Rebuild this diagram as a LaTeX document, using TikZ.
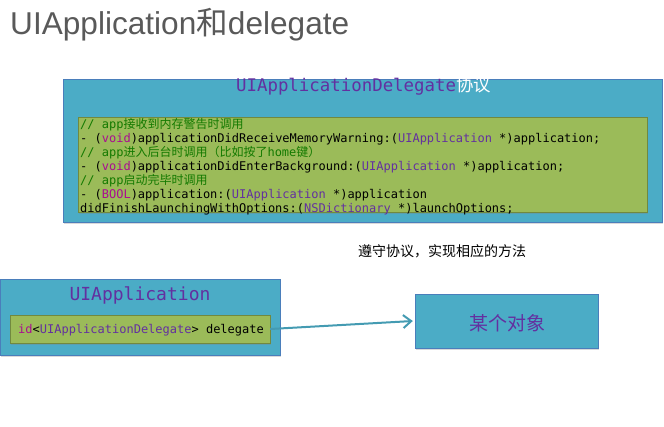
\documentclass[tikz,border=0pt]{standalone}
\usepackage{fontspec}
\setmainfont{Liberation Sans}
\setmonofont{DejaVu Sans Mono}
\newfontfamily\cjk{Noto Sans CJK SC}
\usetikzlibrary{arrows.meta,shadows}

\definecolor{boxblue}{HTML}{4BACC6}
\definecolor{blueline}{HTML}{4A7EBB}
\definecolor{boxgreen}{HTML}{9BBB59}
\definecolor{greenline}{HTML}{71893F}
\definecolor{codepurple}{HTML}{6330A0}
\definecolor{cmtgreen}{HTML}{137A00}
\definecolor{kwpink}{HTML}{AA0D91}
\definecolor{titlegray}{HTML}{595959}

\tikzset{
  bluebox/.style={draw=blueline, fill=boxblue, inner sep=0,
    drop shadow={shadow xshift=1pt, shadow yshift=-1.5pt, opacity=.3}},
  greenbox/.style={draw=greenline, fill=boxgreen, inner sep=0,
    drop shadow={shadow xshift=1pt, shadow yshift=-1.5pt, opacity=.3}},
  code/.style={font=\fontsize{12}{14}\selectfont\ttfamily, inner sep=0, anchor=base west},
}

\begin{document}
\begin{tikzpicture}[x=1pt,y=-1pt]
    \useasboundingbox (0,0) rectangle (664,426);
    \node[anchor=base west, inner sep=0, text=titlegray, font=\fontsize{31.6}{31.6}\selectfont] (title) at (10,34) {UIApplication{\cjk 和}delegate};
    % protocol box
    \node[bluebox, minimum width=599pt, minimum height=143pt] (proto) at (362.5,150.5) {};
    \node[greenbox, minimum width=569pt, minimum height=95pt] (code) at (362.5,164.5) {};
    \node[inner sep=0, font=\fontsize{17.4}{17.4}\selectfont] (head) at (363.5,86) {\ttfamily\color{codepurple}UIApplicationDelegate{\cjk\color{white}协议}};
    \node[code, text=cmtgreen] (c1) at (80,128) {// app{\cjk 接收到内存警告时调用}};
    \node[code] (c2) at (80,142) {- ({\color{kwpink}void})applicationDidReceiveMemoryWarning:({\color{codepurple}UIApplication} *)application;};
    \node[code, text=cmtgreen] (c3) at (80,156) {// app{\cjk 进入后台时调用（比如按了}home{\cjk 键）}};
    \node[code] (c4) at (80,170) {- ({\color{kwpink}void})applicationDidEnterBackground:({\color{codepurple}UIApplication} *)application;};
    \node[code, text=cmtgreen] (c5) at (80,184) {// app{\cjk 启动完毕时调用}};
    \node[code] (c6) at (80,198) {- ({\color{kwpink}BOOL})application:({\color{codepurple}UIApplication} *)application};
    \node[code] (c7) at (80,212) {didFinishLaunchingWithOptions:({\color{codepurple}NSDictionary} *)launchOptions;};
    % UIApplication box
    \node[bluebox, minimum width=280pt, minimum height=76pt] (app) at (140,317) {};
    \node[inner sep=0, text=codepurple, font=\fontsize{18}{18}\selectfont\ttfamily] (applbl) at (140,295) {UIApplication};
    \node[greenbox, minimum width=260pt, minimum height=28pt] (prop) at (140,329) {};
    \node[code] (proptxt) at (18,333) {{\color{kwpink}id}<{\color{codepurple}UIApplicationDelegate}> delegate};
    % some object
    \node[bluebox, minimum width=183pt, minimum height=54pt] (obj) at (506.5,321) {};
    \node[inner sep=0, text=codepurple, font=\fontsize{19}{19}\selectfont\cjk] (objlbl) at (507,323) {某个对象};
    \node[inner sep=0, font=\fontsize{14}{14}\selectfont\cjk] (note) at (442,251) {遵守协议，实现相应的方法};
    \draw[draw=boxblue!90!black, line width=2pt, -{Straight Barb[length=8pt,width=13pt]}] (prop.east) -- ([xshift=-2pt]obj.west);
\end{tikzpicture}
\end{document}
